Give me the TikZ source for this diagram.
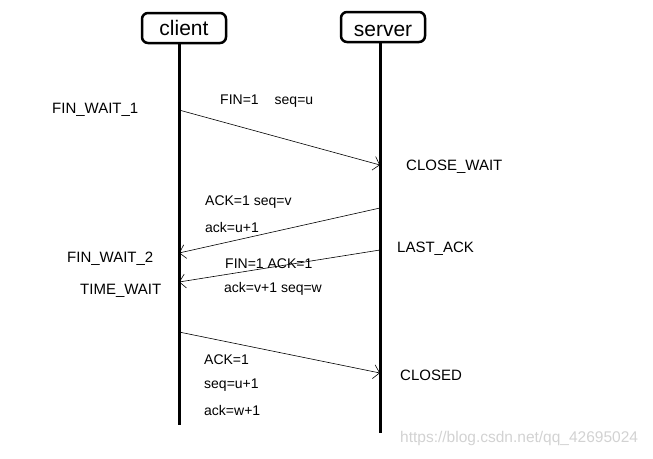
\documentclass[tikz,border=0pt]{standalone}
\usepackage{fontspec}
\setmainfont{Liberation Sans}
\usetikzlibrary{arrows.meta}

\begin{document}
\begin{tikzpicture}[x=1pt,y=-1pt,
    >={Straight Barb[length=6pt,width=14pt]},
    host/.style={draw,line width=2.5pt,rounded corners=6pt,minimum width=84pt,minimum height=30pt,font=\fontsize{21}{21}\selectfont},
    lifeline/.style={line width=3pt},
    msg/.style={->,semithick},
    state/.style={anchor=west,inner sep=0pt,font=\fontsize{15}{15}\selectfont},
    info/.style={anchor=west,inner sep=0pt,font=\fontsize{14}{14}\selectfont}]
    \useasboundingbox (0,0) rectangle (653,458);
    % hosts
    \node[host] (client) at (184,28) {client};
    \node[host,text depth=0pt,text height=18pt] (server) at (383,27) {server};
    \coordinate (cbot) at (179,425);
    \coordinate (sbot) at (380,433);
    \draw[lifeline] (cbot |- client.south) -- (cbot);
    \draw[lifeline] (sbot |- server.south) -- (sbot);
    % ends of the messages
    \coordinate (c1) at (179,110);
    \coordinate (s1) at (380,165);
    \coordinate (s2) at (380,208);
    \coordinate (c2) at (179,253);
    \coordinate (s3) at (380,250);
    \coordinate (c3) at (179,282);
    \coordinate (c4) at (179,332);
    \coordinate (s4) at (380,373);
    \draw[msg] (c1) -- (s1);
    \draw[msg] (s2) -- (c2);
    \draw[msg] (s3) -- (c3);
    \draw[msg] (c4) -- (s4);
    % states
    \node[state] (fw1) at (52,110) {FIN\_WAIT\_1};
    \node[state] (cw) at (406,167) {CLOSE\_WAIT};
    \node[state] (la) at (397,249) {LAST\_ACK};
    \node[state] (fw2) at (67,259) {FIN\_WAIT\_2};
    \node[state] (tw) at (80,291) {TIME\_WAIT};
    \node[state] (cl) at (400,375) {CLOSED};
    % message fields
    \node[info] (m1) at (220,101) {FIN=1\hspace{16pt}seq=u};
    \node[info] (m2a) at (205,202) {ACK=1 seq=v};
    \node[info] (m2b) at (205,227) {ack=u+1};
    \node[info] (m3a) at (225,264) {FIN=1 ACK=1};
    \node[info] (m3b) at (224,289) {ack=v+1 seq=w};
    \node[info] (m4a) at (204,360) {ACK=1};
    \node[info] (m4b) at (204,385) {seq=u+1};
    \node[info] (m4c) at (204,410) {ack=w+1};
    \node[anchor=west,inner sep=0pt,text=gray!35,font=\fontsize{15.5}{15.5}\selectfont] (mark) at (400,438) {https://blog.csdn.net/qq\_42695024};
\end{tikzpicture}
\end{document}
